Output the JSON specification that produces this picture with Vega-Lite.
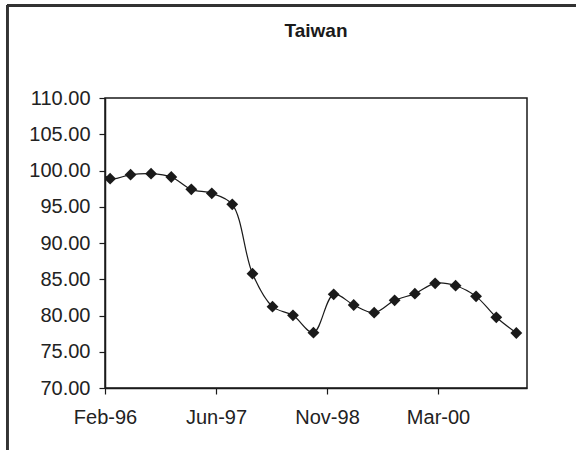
{
  "$schema": "https://vega.github.io/schema/vega-lite/v6.json",
  "autosize": {"type": "none"},
  "width": 422,
  "height": 290,
  "padding": {"left": 105, "top": 98, "right": 49, "bottom": 62},
  "background": "white",
  "title": {
    "text": "Taiwan",
    "font": "Liberation Sans",
    "fontSize": 19,
    "fontWeight": "bold",
    "color": "#1a1a1a",
    "anchor": "middle",
    "frame": "group",
    "baseline": "alphabetic",
    "offset": -52
  },
  "config": {
    "view": {"stroke": "#1a1a1a", "strokeWidth": 1.5},
    "axis": {
      "labelFont": "Liberation Sans",
      "labelFontSize": 20,
      "labelColor": "#222222",
      "domainColor": "#1a1a1a",
      "domainWidth": 1.5,
      "tickColor": "#1a1a1a",
      "tickWidth": 1.2,
      "tickSize": 6,
      "grid": false,
      "title": null
    }
  },
  "data": {
    "values": [
      {"date": "1995-12-01", "value": 101.3},
      {"date": "1996-03-01", "value": 98.87},
      {"date": "1996-06-01", "value": 99.43},
      {"date": "1996-09-01", "value": 99.56},
      {"date": "1996-12-01", "value": 99.1},
      {"date": "1997-03-01", "value": 97.4},
      {"date": "1997-06-01", "value": 96.85},
      {"date": "1997-09-01", "value": 95.33},
      {"date": "1997-12-01", "value": 85.77},
      {"date": "1998-03-01", "value": 81.22},
      {"date": "1998-06-01", "value": 80.02},
      {"date": "1998-09-01", "value": 77.63},
      {"date": "1998-12-01", "value": 82.92},
      {"date": "1999-03-01", "value": 81.45},
      {"date": "1999-06-01", "value": 80.39},
      {"date": "1999-09-01", "value": 82.09},
      {"date": "1999-12-01", "value": 83.01},
      {"date": "2000-03-01", "value": 84.44},
      {"date": "2000-06-01", "value": 84.11},
      {"date": "2000-09-01", "value": 82.64},
      {"date": "2000-12-01", "value": 79.75},
      {"date": "2001-03-01", "value": 77.59}
    ]
  },
  "encoding": {
    "x": {
      "type": "temporal",
      "scale": {
        "type": "utc",
        "domain": [
          {"year": 1996, "month": 2, "date": 7, "utc": true},
          {"year": 2001, "month": 4, "date": 18, "utc": true}
        ]
      },
      "axis": {
        "values": [
          {"year": 1996, "month": 2, "date": 7, "utc": true},
          {"year": 1997, "month": 6, "date": 20, "utc": true},
          {"year": 1998, "month": 11, "date": 1, "utc": true},
          {"year": 2000, "month": 3, "date": 14, "utc": true}
        ],
        "labelExpr": "utcFormat(datum.value, '%b-%y')",
        "labelPadding": 13,
        "labelFlush": false,
        "labelOverlap": false
      }
    },
    "y": {
      "type": "quantitative",
      "scale": {"domain": [70, 110], "nice": false, "zero": false},
      "axis": {
        "values": [70, 75, 80, 85, 90, 95, 100, 105, 110],
        "format": ".2f",
        "labelPadding": 9,
        "labelOverlap": false
      }
    }
  },
  "layer": [
    {
      "mark": {
        "type": "line",
        "color": "#1a1a1a",
        "strokeWidth": 1.2,
        "interpolate": "catmull-rom",
        "clip": true,
        "point": {"shape": "diamond", "size": 140, "filled": true, "color": "#1a1a1a", "opacity": 1}
      },
      "encoding": {
        "x": {"field": "date"},
        "y": {"field": "value"}
      }
    },
    {
      "mark": {"type": "rule", "color": "#333333", "strokeWidth": 2, "clip": false},
      "encoding": {
        "x": {"datum": {"year": 1994, "month": 11, "date": 24, "utc": true}},
        "x2": {"datum": {"year": 2001, "month": 11, "date": 24, "utc": true}},
        "y": {"datum": 122.8}
      }
    },
    {
      "mark": {"type": "rule", "color": "#333333", "strokeWidth": 2, "clip": false},
      "encoding": {
        "x": {"datum": {"year": 1994, "month": 11, "date": 24, "utc": true}},
        "y": {"datum": 122.8},
        "y2": {"datum": 60}
      }
    }
  ]
}
